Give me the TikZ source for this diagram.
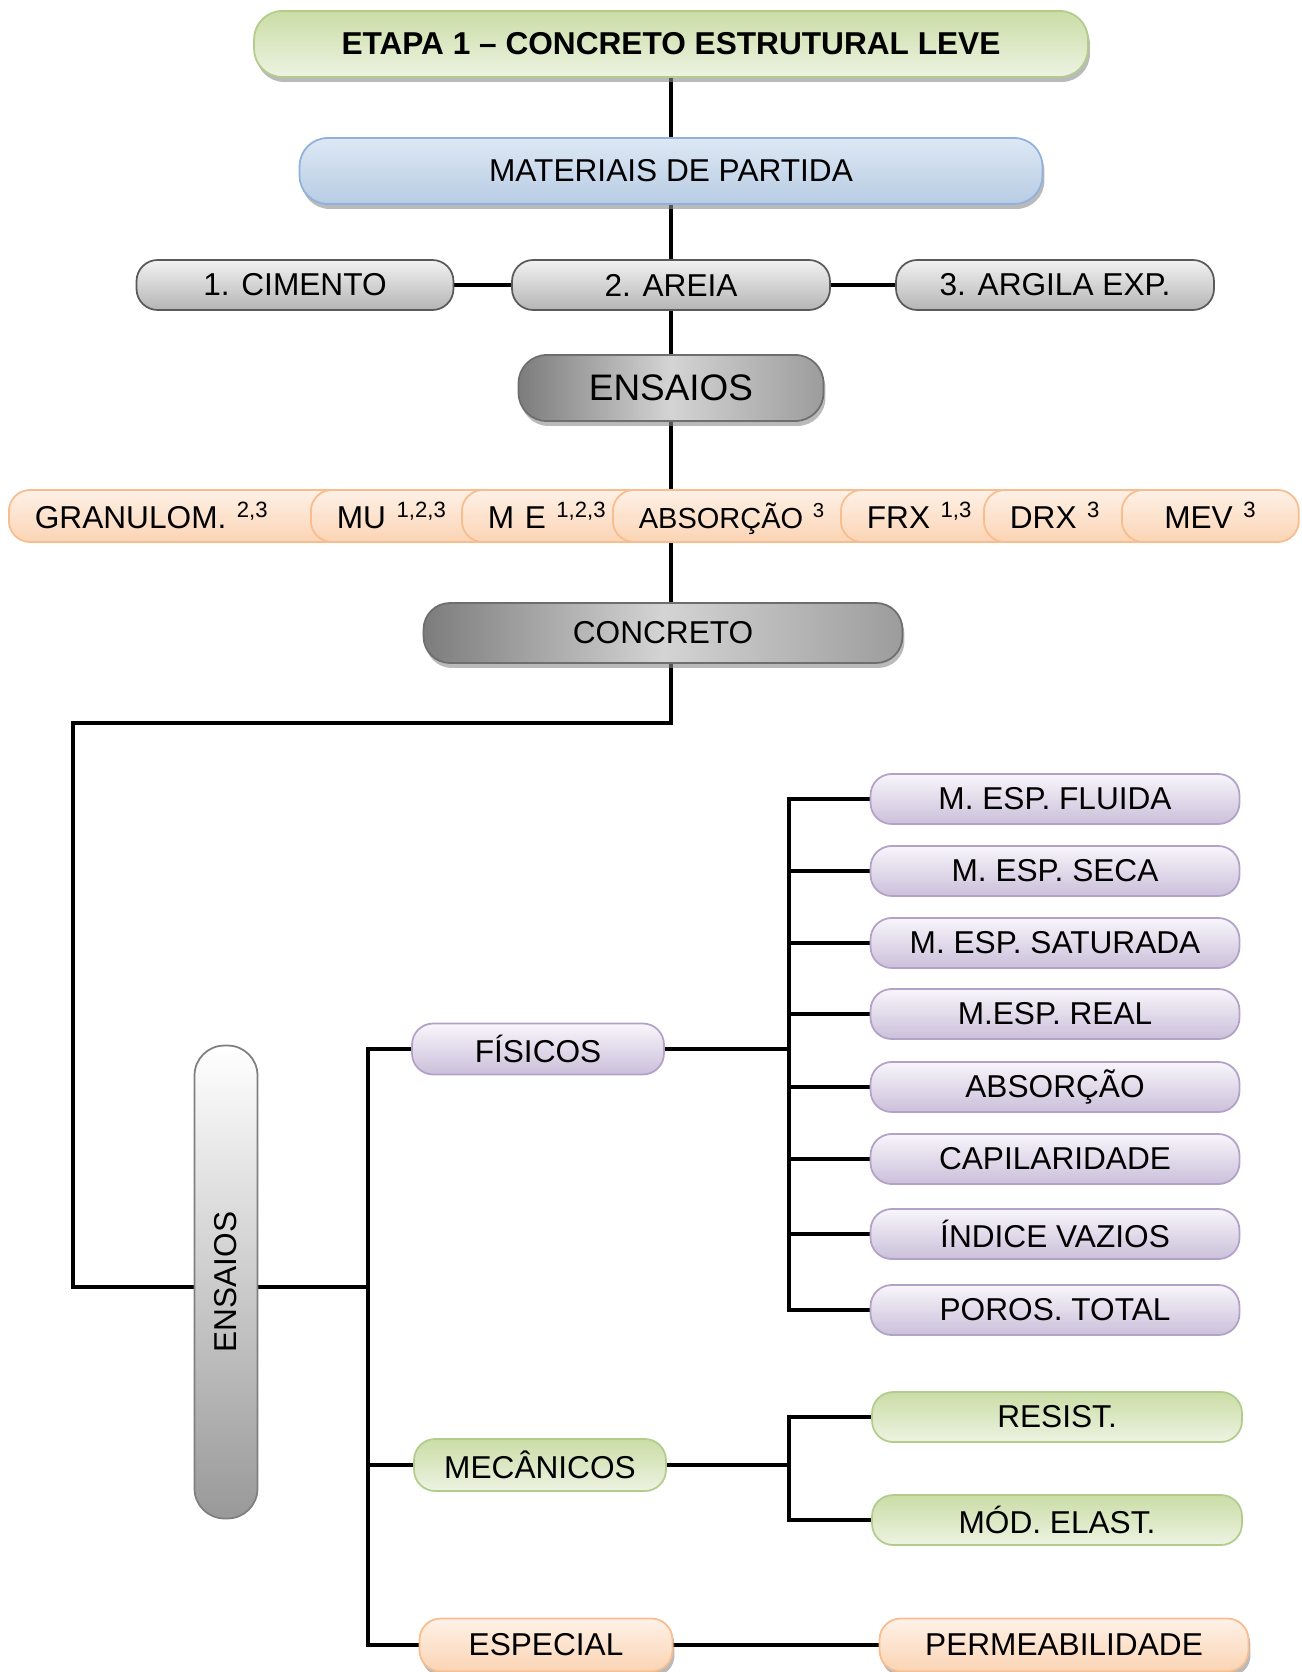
\documentclass[tikz,border=0pt]{standalone}
\usepackage{fontspec}
\setmainfont{Liberation Sans}
\usetikzlibrary{backgrounds,shadows}
\definecolor{grnL}{HTML}{B3CC8C}
\definecolor{grnT}{HTML}{CADDA6}
\definecolor{grnB}{HTML}{EDF3E2}
\definecolor{bluL}{HTML}{8FB2DD}
\definecolor{bluT}{HTML}{DDE8F4}
\definecolor{bluB}{HTML}{B8CCE4}
\definecolor{gryL}{HTML}{5A5A5A}
\definecolor{gryT}{HTML}{F2F2F2}
\definecolor{gryB}{HTML}{B5B5B5}
\definecolor{drkL}{HTML}{6E6E6E}
\definecolor{drkA}{HTML}{7C7C7C}
\definecolor{drkM}{HTML}{D4D4D4}
\definecolor{drkB}{HTML}{9C9C9C}
\definecolor{orgL}{HTML}{F8BD8F}
\definecolor{orgT}{HTML}{FEF1E7}
\definecolor{orgB}{HTML}{FBD4B4}
\definecolor{lilL}{HTML}{B3A2C7}
\definecolor{lilT}{HTML}{F8F6FB}
\definecolor{lilB}{HTML}{CBBFDA}
\definecolor{vrtL}{HTML}{7F7F7F}
\definecolor{vrtB}{HTML}{999999}
\begin{document}
\begin{tikzpicture}[x=0.02cm,y=-0.02cm,
  pill/.style={draw,line width=1pt,rounded corners=12pt,inner sep=0pt,minimum height=1cm,font=\fontsize{18}{20}\selectfont},
  shd/.style={drop shadow={shadow xshift=0.04cm,shadow yshift=-0.1cm,fill=black!45,opacity=0.6}},
  greenbox/.style={pill,draw=grnL,top color=grnT,bottom color=grnB},
  bluebox/.style={pill,draw=bluL,top color=bluT,bottom color=bluB},
  graybox/.style={pill,draw=gryL,top color=gryT,bottom color=gryB},
  darkbox/.style={pill,draw=drkL,left color=drkA,right color=drkB,middle color=drkM},
  orgbox/.style={pill,draw=orgL,top color=orgT,bottom color=orgB},
  lilbox/.style={pill,draw=lilL,top color=lilT,bottom color=lilB,minimum width=7.38cm},
  vbox/.style={pill,draw=vrtL,top color=white,bottom color=vrtB,minimum width=1.26cm,minimum height=9.46cm,rounded corners=17pt},
  tag/.style={orgbox,anchor=west,inner xsep=0.52cm,minimum height=1.04cm,text height=16pt,text depth=1.6pt,align=left},
  link/.style={line width=2pt,line join=miter}]
\useasboundingbox (0,0) rectangle (1301,1672);

\node[greenbox,shd,font=\fontsize{18}{20}\selectfont\bfseries,minimum width=16.68cm,minimum height=1.32cm,rounded corners=16pt] (etapa) at (671,44) {ETAPA 1 -- CONCRETO ESTRUTURAL LEVE};
\node[bluebox,shd,minimum width=14.86cm,minimum height=1.32cm,rounded corners=16pt] (mat) at (671,171) {MATERIAIS DE PARTIDA};
\node[graybox,minimum width=6.34cm] (cim) at (295,285) {1. CIMENTO};
\node[graybox,minimum width=6.36cm] (are) at (671,285) {2. AREIA};
\node[graybox,minimum width=6.36cm] (arg) at (1055,285) {3. ARGILA EXP.};
\node[darkbox,shd,minimum width=6.1cm,minimum height=1.32cm,rounded corners=16pt,font=\fontsize{21}{24}\selectfont] (ens) at (671,388) {ENSAIOS};

% ensaios dos materiais
\node[tag,text width=5.8cm] (gra) at (8,516) {GRANULOM. \textsuperscript{2,3}};
\node[tag,text width=2.76cm] (mu) at (310,516) {MU \textsuperscript{1,2,3}};
\node[tag,text width=2.74cm] (me) at (461,516) {M E \textsuperscript{1,2,3}};
\node[tag,text width=4.32cm,font=\fontsize{16.5}{20}\selectfont] (abs) at (612,516) {ABSORÇÃO \textsuperscript{3}};
\node[tag,text width=2.56cm] (frx) at (840,516) {FRX \textsuperscript{1,3}};
\node[tag,text width=2.5cm] (drx) at (983,516) {DRX \textsuperscript{3}};
\node[tag,text width=2.5cm,align=center] (mev) at (1121,516) {MEV \textsuperscript{3}};

\node[darkbox,shd,minimum width=9.58cm,minimum height=1.2cm,rounded corners=15pt] (conc) at (663,633) {CONCRETO};
\node[vbox] (ens2) at (226,1282) {\rotatebox{90}{ENSAIOS}};

\node[lilbox,minimum width=5.04cm,minimum height=1.02cm] (fis) at (538,1049) {FÍSICOS};
\node[greenbox,minimum width=5.04cm,minimum height=1.04cm] (mec) at (540,1465) {MECÂNICOS};
\node[orgbox,shd,minimum width=5.06cm,minimum height=1.06cm] (esp) at (546,1645) {ESPECIAL};

% ensaios fisicos
\foreach \y/\t [count=\i] in {799/M. ESP. FLUIDA, 871/M. ESP. SECA, 943/M. ESP. SATURADA, 1014/M.ESP. REAL, 1087/ABSORÇÃO, 1159/CAPILARIDADE, 1234/ÍNDICE VAZIOS, 1310/POROS. TOTAL}
  \node[lilbox] (p\i) at (1055,\y) {\t};

\node[greenbox,minimum width=7.4cm] (res) at (1057,1417) {RESIST.};
\node[greenbox,minimum width=7.4cm] (mod) at (1057,1520) {MÓD. ELAST.};
\node[orgbox,shd,minimum width=7.38cm,minimum height=1.06cm] (perm) at (1064,1645) {PERMEABILIDADE};

\begin{scope}[on background layer]
\draw[link] (etapa) -- (mat);
\draw[link] (mat) -- (are);
\draw[link] (cim) -- (are);
\draw[link] (are) -- (arg);
\draw[link] (are) -- (ens);
\draw[link] (ens) -- (etapa |- conc.north);
\coordinate (bend) at (73,723);
\coordinate (tA) at (368,1287);
\draw[link] (etapa |- conc.south) |- (bend) |- (ens2.west |- tA);
\draw[link] (ens2.east |- tA) -- (tA);
\draw[link] (fis.west) -| (tA);
\draw[link] (esp.west) -| (tA);
\draw[link] (mec.west) -- (mec.west -| tA);
\coordinate (tB) at (789,1049);
\draw[link] (fis.east) -- (tB);
\foreach \i in {1,...,8}
  \draw[link] (p\i.west) -| (tB);
\coordinate (tC) at (789,1465);
\draw[link] (mec.east) -- (tC);
\draw[link] (res.west) -| (tC);
\draw[link] (mod.west) -| (tC);
\draw[link] (esp.east) -- (perm.west);
\end{scope}
\end{tikzpicture}
\end{document}
